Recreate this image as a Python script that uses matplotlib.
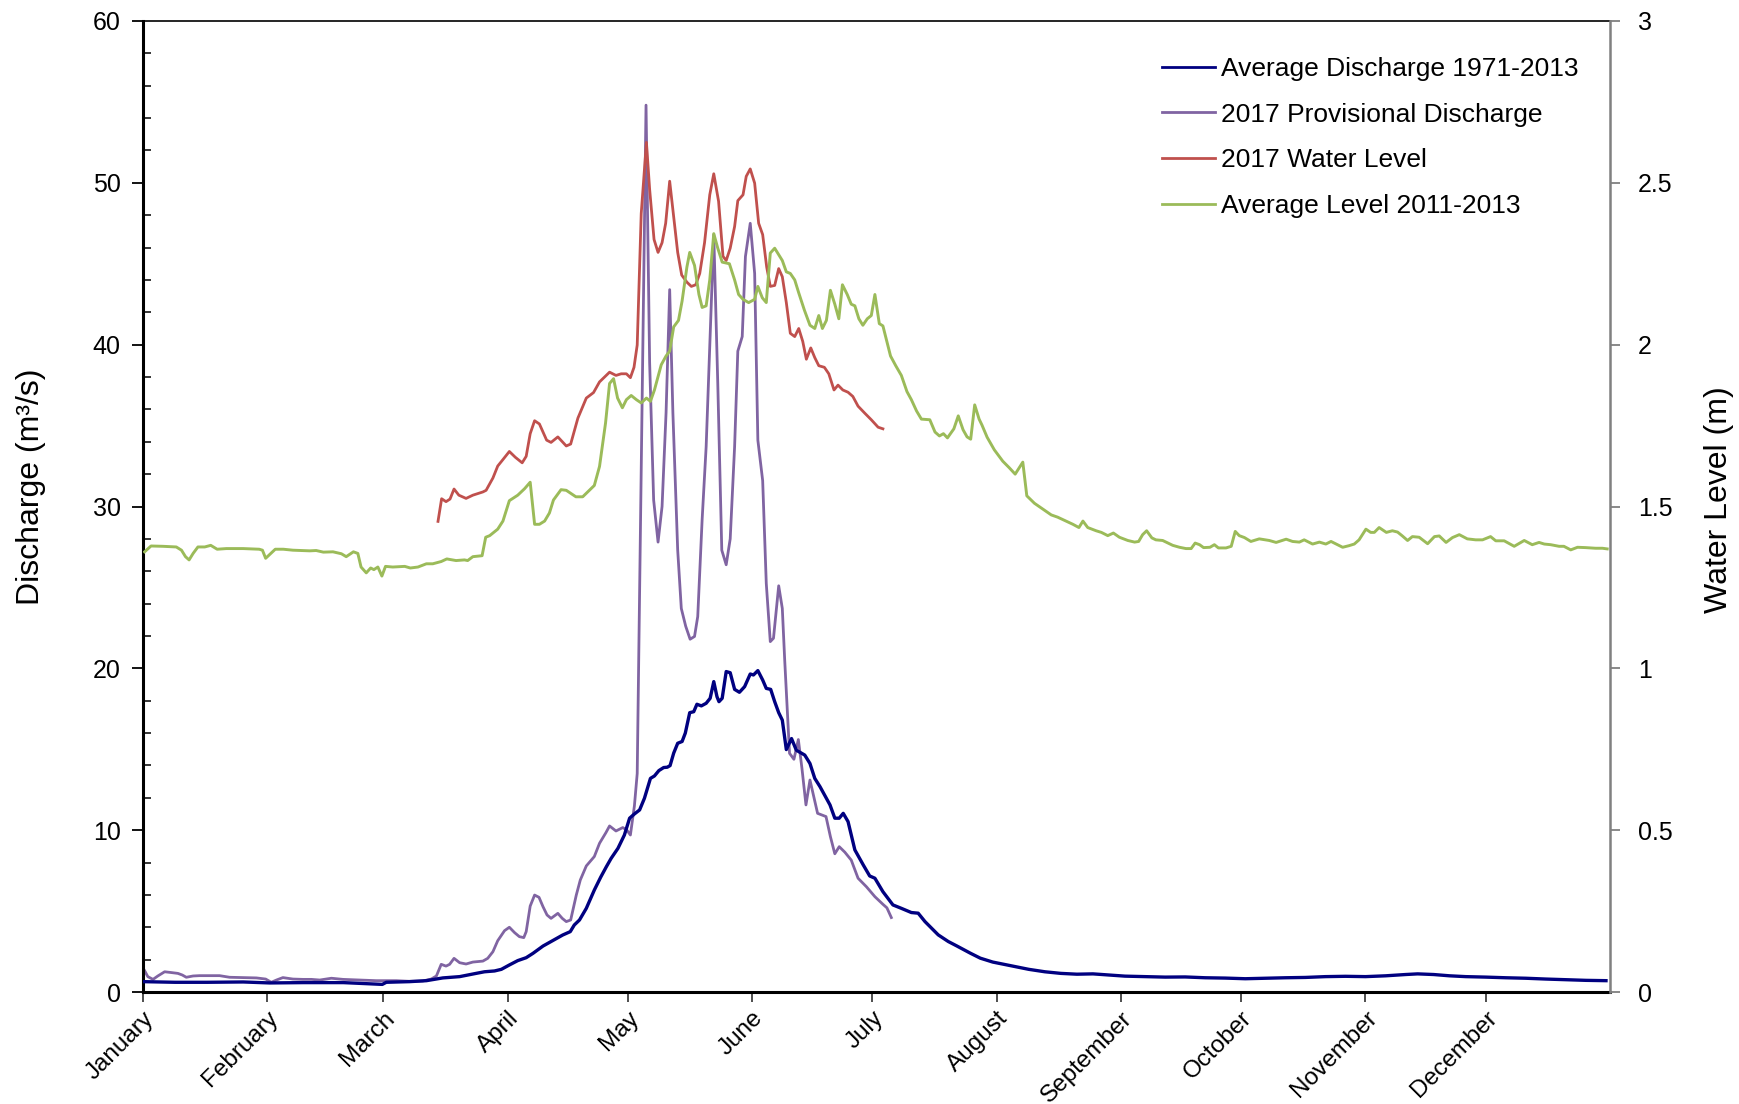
import matplotlib
matplotlib.use("Agg")
import matplotlib.pyplot as plt
from matplotlib.ticker import MultipleLocator, FixedLocator
from matplotlib.lines import Line2D

plt.rcParams['font.family'] = ['Liberation Sans', 'DejaVu Sans']

# ---------------- data (day of year, 0 = Jan 1, leap-year axis) ----------------
month_names = ["January", "February", "March", "April", "May", "June", "July",
               "August", "September", "October", "November", "December"]
month_start = [0, 31, 60, 91, 121, 152, 182, 213, 244, 274, 305, 335]

# Average Discharge 1971-2013 (m3/s)
avg_q_day = [0, 8, 16, 25, 31.6, 40, 50, 59.7, 60.7, 66.5, 70.7, 74.8, 79, 81, 83.1, 85.2,
             87.7, 89.4, 91.4, 93.5, 95.6, 97.3, 99.8, 102.2, 104.7, 106.6, 107.6, 108.9,
             110.6, 112.6, 114.2, 115.6, 116.8, 118.5, 120.1, 121.4, 122.6, 123.9, 125.1,
             126.6, 127.6, 128.7, 129.9, 130.8, 131.5, 132.4, 133.4, 134.5, 135.3, 136.4,
             137.4, 138.2, 139.3, 140.5, 141.5, 142.4, 143.2, 143.7, 144.5, 145.5, 146.5,
             147.6, 148.8, 150.1, 151.5, 152.3, 153.4, 154.6, 155.5, 156.6, 157.6, 158.6,
             159.5, 160.5, 161.8, 163, 165.1, 166.4, 167.6, 168.9, 171.4, 172.6, 173.7,
             174.7, 175.9, 177.6, 179.7, 181.3, 182.6, 184.6, 187.1, 189.2, 191.7, 193.4,
             195.1, 198.4, 200.9, 203, 206.4, 208.9, 212, 215, 218, 221, 225, 229, 233,
             237, 241, 245, 250, 255, 260, 265, 270, 275, 280, 285, 290, 295, 300, 305,
             310, 315, 318, 322, 326, 330, 335, 340, 345, 350, 355, 360, 365]
avg_q_val = [0.64, 0.60, 0.60, 0.62, 0.56, 0.58, 0.58, 0.47, 0.60, 0.64, 0.70, 0.87, 0.95,
             1.05, 1.15, 1.25, 1.30, 1.40, 1.67, 1.94, 2.12, 2.39, 2.84, 3.17, 3.52, 3.73,
             4.14, 4.45, 5.17, 6.30, 7.10, 7.74, 8.26, 8.88, 9.70, 10.74, 11.0, 11.25, 11.97,
             13.2, 13.35, 13.68, 13.87, 13.89, 13.99, 14.76, 15.37, 15.48, 16.0, 17.26,
             17.32, 17.78, 17.68, 17.84, 18.15, 19.18, 18.25, 17.94, 18.15, 19.8, 19.73,
             18.7, 18.52, 18.87, 19.65, 19.59, 19.86, 19.28, 18.76, 18.7, 17.94, 17.26,
             16.8, 14.98, 15.66, 14.94, 14.64, 14.12, 13.2, 12.69, 11.56, 10.74, 10.74,
             11.04, 10.53, 8.78, 7.85, 7.17, 7.03, 6.2, 5.38, 5.17, 4.91, 4.87,
             4.35, 3.53, 3.12, 2.85, 2.4, 2.09, 1.85, 1.70, 1.55, 1.40, 1.25, 1.15, 1.10,
             1.12, 1.05, 0.98, 0.95, 0.92, 0.93, 0.88, 0.86, 0.82, 0.85, 0.88, 0.90, 0.95,
             0.97, 0.95, 1.00, 1.08, 1.12, 1.08, 1.00, 0.95, 0.92, 0.88, 0.85, 0.80, 0.76,
             0.72, 0.70]

# 2017 Provisional Discharge (m3/s)
q17_day = [0.4, 1.2, 2.5, 3.7, 5.4, 7.1, 8.7, 9.8, 10.8, 12.5, 14.1, 19.1, 21.6, 24.9, 28.3,
           30.6, 32, 33.3, 34.9, 37.4, 39.9, 42, 44.1, 47, 49.9, 54, 58.2, 63.2, 66.5, 69.8,
           71.9, 73.2, 74.4, 75.6, 76.5, 77.6, 79, 80.6, 82.3, 84.8, 86, 87.3, 88.5, 90.2,
           91.4, 92.7, 93.9, 95, 95.6, 96.6, 97.7, 98.8, 99.8, 100.8, 101.8, 103.5, 104.6,
           105.6, 106.7, 108.1, 109.1, 110.6, 112.6, 113.9, 115.5, 116.4, 118, 119.7, 120.7,
           121.6, 122.6, 123.3, 125.5, 126.4, 127.4, 128.5, 129.5, 130.5, 131.4, 132.2,
           133.4, 134.3, 135.4, 136.5, 137.6, 138.4, 139.5, 140.5, 142.4, 143.4, 144.4,
           145.5, 146.5, 147.6, 148.4, 149.5, 150.3, 151.5, 152.6, 153.4, 154.6, 155.5,
           156.5, 157.3, 158.6, 159.5, 160.1, 161.3, 162.4, 163.5, 164.4, 165.4, 166.4,
           168.3, 170.4, 171.5, 172.6, 173.7, 175.1, 176.7, 178.4, 180.5, 182.6, 184.6,
           185.6, 186.7]
q17_val = [1.32, 0.95, 0.78, 0.99, 1.25, 1.2, 1.15, 1.05, 0.91, 0.99, 1.01, 1.01, 0.91, 0.89,
           0.87, 0.80, 0.60, 0.74, 0.89, 0.80, 0.78, 0.78, 0.74, 0.85, 0.78, 0.74, 0.70, 0.70,
           0.66, 0.68, 0.80, 0.99, 1.71, 1.60, 1.71, 2.08, 1.81, 1.73, 1.85, 1.91, 2.08, 2.49,
           3.17, 3.79, 4.00, 3.67, 3.42, 3.36, 3.73, 5.31, 5.99, 5.85, 5.27, 4.76, 4.55, 4.86,
           4.55, 4.35, 4.45, 5.99, 6.92, 7.79, 8.37, 9.19, 9.85, 10.26, 9.95, 10.16, 10.01,
           9.70, 11.5, 13.5, 54.8, 38.9, 30.4, 27.8, 30.0, 35.8, 43.4, 35.8,
           27.3, 23.7, 22.6, 21.8, 21.97, 23.2, 29.2, 33.7, 46.8, 37.6, 27.3,
           26.4, 28.0, 33.7, 39.6, 40.5, 45.45, 47.5, 44.4, 34.1, 31.6, 25.25,
           21.65, 21.86, 25.1, 23.7, 20.5, 14.75, 14.38, 15.6, 13.82, 11.56, 13.1,
           11.04, 10.84, 9.6, 8.54, 8.98, 8.64, 8.15, 7.03, 6.5, 5.89, 5.42,
           5.2, 4.6]

# 2017 Water Level (m)
wl17_day = [73.6, 74.5, 75.6, 76.6, 77.6, 78.8, 80.6, 82.3, 84.8, 85.6, 87.3, 88.5, 89.8,
            91.4, 92.9, 94.6, 95.6, 96.6, 97.7, 98.9, 100.7, 101.8, 103.5, 105.6, 106.7,
            108.5, 110.6, 112.4, 113.9, 116.4, 118, 119.3, 120.6, 121.6, 122.5, 123.3,
            124.3, 125.6, 126.4, 127.5, 128.5, 129.5, 130.4, 131.4, 132.4, 133.4, 134.4,
            135.7, 136.8, 137.9, 138.9, 140.1, 141.4, 142.4, 143.6, 144.7, 145.5, 146.5,
            147.6, 148.4, 149.7, 150.5, 151.5, 152.6, 153.6, 154.6, 155.6, 156.5, 157.6,
            158.6, 159.5, 160.5, 161.5, 162.6, 163.6, 164.6, 165.5, 166.6, 167.6, 168.6,
            170, 171.1, 172.4, 173.4, 174.6, 175.9, 177.1, 178.4, 180.1, 181.7, 183.4, 184.6]
wl17_val = [1.454, 1.524, 1.515, 1.523, 1.554, 1.535, 1.525, 1.535, 1.545, 1.550, 1.588,
            1.625, 1.645, 1.670, 1.652, 1.635, 1.655, 1.725, 1.765, 1.755, 1.705, 1.698,
            1.715, 1.687, 1.693, 1.773, 1.835, 1.852, 1.885, 1.915, 1.905, 1.910, 1.910,
            1.898, 1.930, 1.999, 2.405, 2.625, 2.480, 2.325, 2.285, 2.315, 2.375, 2.505,
            2.395, 2.285, 2.215, 2.193, 2.180, 2.185, 2.220, 2.315, 2.463, 2.528, 2.443,
            2.273, 2.260, 2.298, 2.365, 2.445, 2.463, 2.520, 2.543, 2.499, 2.375, 2.340,
            2.240, 2.180, 2.183, 2.235, 2.210, 2.130, 2.035, 2.025, 2.050, 2.010, 1.955,
            1.990, 1.960, 1.935, 1.930, 1.910, 1.860, 1.875, 1.860, 1.853, 1.840, 1.810,
            1.788, 1.768, 1.745, 1.740]

# Average Level 2011-2013 (m)
avg_wl_day = [0.4, 2, 5, 8.3, 9.6, 10.6, 11.5, 12.5, 13.7, 15.4, 16.9, 18.5, 20.8, 25, 29,
              29.8, 30.6, 33, 35, 37.4, 41.6, 43.2, 45, 47.4, 49.5, 50.7, 52.5, 53.6, 54.4,
              55.7, 56.8, 57.6, 58.6, 59.6, 60.5, 62.3, 65.3, 66.7, 68.6, 70.7, 72.3, 74.4,
              75.8, 78.1, 80.2, 81, 82.3, 84.6, 85.5, 86.5, 88.5, 89.8, 91.4, 93.5, 95.2,
              96.6, 97.7, 98.9, 100.2, 101.4, 102.4, 104.3, 105.6, 108, 109.7, 112.6, 113.9,
              115.4, 116.4, 117.4, 118.4, 119.6, 120.6, 121.8, 123.1, 124.3, 125.6, 126.6,
              127.6, 129.3, 130.5, 131.4, 132.4, 133.6, 134.5, 135.7, 136.4, 137.6, 138.7,
              139.5, 140.5, 141.4, 142.4, 143.4, 144.5, 146.3, 147.6, 148.6, 149.7, 151.1,
              152.6, 153.4, 154.5, 155.5, 156.5, 157.6, 159.5, 160.5, 161.5, 162.6, 163.6,
              165, 166.4, 167.6, 168.6, 169.5, 170.5, 171.5, 172.6, 173.6, 174.5, 175.7,
              176.7, 177.6, 178.6, 179.6, 180.7, 181.7, 182.6, 183.7, 184.6, 186.5, 187.8,
              189.2, 190.6, 191.7, 193, 194.2, 196.3, 197.6, 198.7, 199.7, 200.7, 202.3,
              203.4, 204.6, 205.6, 206.5, 207.5, 208.6, 209.3, 210.6, 212.4, 214.5, 216.1,
              217.6, 219.5, 220.5, 222.4, 224.5, 226.6, 228.2, 229.9, 232, 233.5, 234.5,
              235.7, 237.8, 239.1, 240.7, 242.1, 243.6, 245.7, 247.4, 248.4, 249.4, 250.4,
              251.7, 252.7, 254.4, 256.9, 258.6, 260.2, 261.5, 262.5, 263.6, 264.6, 266.2,
              267.3, 268.3, 270.2, 271.5, 272.5, 273.5, 274.8, 276.4, 278.5, 281, 282.7,
              285.2, 286.8, 288.5, 289.7, 291.8, 293.5, 295.1, 296.4, 299.3, 300.9, 302.2,
              303.4, 305.1, 306.3, 307.2, 308.4, 310.2, 311.7, 313, 314.2, 315.5, 316.7,
              318.4, 320.5, 322.2, 323.4, 325.1, 326.7, 328.4, 330.4, 332.5, 334.2, 336.2,
              337.5, 339.6, 342.1, 344.6, 346.6, 348.3, 349.6, 351.2, 353.3, 354.5, 356.2,
              357.9, 359.9, 362.4, 364.1, 365.3]
avg_wl_val = [1.360, 1.378, 1.377, 1.375, 1.365, 1.345, 1.335, 1.355, 1.375, 1.375, 1.380,
              1.368, 1.370, 1.370, 1.368, 1.365, 1.340, 1.368, 1.368, 1.365, 1.363, 1.364,
              1.359, 1.360, 1.354, 1.345, 1.360, 1.355, 1.313, 1.295, 1.310, 1.305, 1.313,
              1.285, 1.315, 1.313, 1.315, 1.310, 1.313, 1.323, 1.323, 1.330, 1.338, 1.333,
              1.335, 1.333, 1.345, 1.348, 1.405, 1.410, 1.430, 1.455, 1.518, 1.535, 1.555,
              1.575, 1.445, 1.445, 1.455, 1.480, 1.520, 1.552, 1.550, 1.530, 1.530, 1.565,
              1.624, 1.758, 1.880, 1.895, 1.835, 1.805, 1.830, 1.843, 1.830, 1.820, 1.835,
              1.825, 1.860, 1.938, 1.965, 1.980, 2.055, 2.075, 2.135, 2.240, 2.285, 2.245,
              2.155, 2.115, 2.120, 2.200, 2.343, 2.298, 2.255, 2.250, 2.200, 2.155, 2.140,
              2.130, 2.140, 2.180, 2.145, 2.130, 2.283, 2.298, 2.260, 2.225, 2.220, 2.200,
              2.160, 2.107, 2.060, 2.050, 2.090, 2.050, 2.075, 2.168, 2.125, 2.080, 2.185,
              2.155, 2.125, 2.120, 2.080, 2.060, 2.080, 2.090, 2.155, 2.065, 2.058, 1.965,
              1.935, 1.905, 1.855, 1.830, 1.795, 1.770, 1.768, 1.730, 1.718, 1.725, 1.712,
              1.740, 1.780, 1.737, 1.715, 1.708, 1.814, 1.770, 1.752, 1.714, 1.675, 1.640,
              1.620, 1.600, 1.637, 1.533, 1.510, 1.492, 1.474, 1.467, 1.457, 1.445, 1.435,
              1.455, 1.435, 1.425, 1.420, 1.410, 1.418, 1.405, 1.395, 1.390, 1.392, 1.413,
              1.425, 1.403, 1.397, 1.395, 1.380, 1.374, 1.370, 1.370, 1.387, 1.382, 1.373,
              1.374, 1.382, 1.372, 1.372, 1.377, 1.423, 1.410, 1.404, 1.392, 1.400, 1.395,
              1.389, 1.399, 1.392, 1.390, 1.397, 1.384, 1.390, 1.384, 1.392, 1.374, 1.379,
              1.384, 1.397, 1.430, 1.420, 1.420, 1.435, 1.420, 1.425, 1.421, 1.409, 1.395,
              1.407, 1.405, 1.385, 1.407, 1.409, 1.389, 1.404, 1.413, 1.400, 1.397, 1.397,
              1.407, 1.394, 1.394, 1.377, 1.395, 1.382, 1.389, 1.384, 1.382, 1.377, 1.377,
              1.366, 1.374, 1.373, 1.371, 1.371, 1.369]

series_labels = ["Average Discharge 1971-2013", "2017 Provisional Discharge",
                 "2017 Water Level", "Average Level 2011-2013"]
left_ticks = [0, 10, 20, 30, 40, 50, 60]
right_ticks = [0, 0.5, 1, 1.5, 2, 2.5, 3]
right_tick_labels = ["0", "0.5", "1", "1.5", "2", "2.5", "3"]

# ---------------- styling ----------------
c_blue = "#000080"
c_purple = "#8064A2"
c_red = "#C0504D"
c_green = "#9BBB59"

fig = plt.figure(figsize=(17.4, 11.04), dpi=100)
ax = fig.add_axes([143 / 1740, 1 - 992 / 1104, (1610 - 143) / 1740, (992 - 21) / 1104])
ax2 = ax.twinx()

l1, = ax.plot(avg_q_day, avg_q_val, color=c_blue, lw=2.4, zorder=3)
l2, = ax.plot(q17_day, q17_val, color=c_purple, lw=2.0, zorder=2)
l3, = ax2.plot(wl17_day, wl17_val, color=c_red, lw=2.0)
l4, = ax2.plot(avg_wl_day, avg_wl_val, color=c_green, lw=2.1)

ax.set_xlim(0, 366)
ax.set_ylim(0, 60)
ax2.set_ylim(0, 3)

ax.set_yticks(left_ticks)
ax.set_yticklabels([str(t) for t in left_ticks])
ax.yaxis.set_minor_locator(MultipleLocator(2))
ax2.set_yticks(right_ticks)
ax2.set_yticklabels(right_tick_labels)

ax.xaxis.set_major_locator(FixedLocator(month_start))
ax.set_xticklabels(month_names, rotation=45, ha='right', va='top', rotation_mode='anchor')

ax.tick_params(axis='y', which='major', direction='out', length=8, width=1.3,
               labelsize=18, pad=8, colors='black')
ax.tick_params(axis='y', which='minor', direction='in', length=6, width=1.1, color='black')
ax.tick_params(axis='x', which='major', direction='out', length=7, width=1.3,
               labelsize=17.5, pad=4, color='#404040')
ax2.tick_params(axis='y', which='major', direction='out', length=7, width=1.3,
                labelsize=18, pad=13, color='#808080', labelcolor='black')

for sp in ['left', 'bottom']:
    ax.spines[sp].set_linewidth(2.2)
    ax.spines[sp].set_color('black')
ax.spines['top'].set_linewidth(1.2)
ax.spines['right'].set_visible(False)
ax2.spines['left'].set_visible(False)
ax2.spines['bottom'].set_visible(False)
ax2.spines['top'].set_visible(False)
ax2.spines['right'].set_color('#808080')
ax2.spines['right'].set_linewidth(1.8)

ax.set_ylabel("Discharge (m³/s)", fontsize=23)
ax.yaxis.set_label_coords(-0.066, 0.52)
ax2.set_ylabel("Water Level (m)", fontsize=23)
ax2.yaxis.set_label_coords(1.064, 0.507)

handles = [Line2D([], [], color=c, lw=2.0) for c in [c_blue, c_purple, c_red, c_green]]
fig.legend(handles, series_labels, loc='upper left', bbox_to_anchor=(1162 / 1740, 1 - 57 / 1104),
           bbox_transform=fig.transFigure, frameon=False, fontsize=19, borderpad=0,
           borderaxespad=0, handlelength=2.0, handletextpad=0.25, labelspacing=0.82)

fig.savefig("out.png", dpi=100)
